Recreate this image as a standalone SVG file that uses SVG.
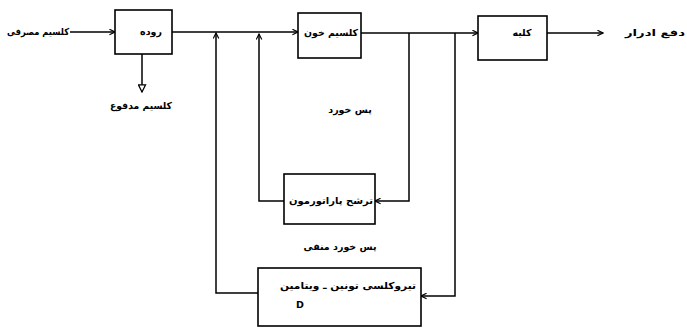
<svg xmlns="http://www.w3.org/2000/svg" width="687" height="328" viewBox="0 0 687 328">
<style>
.box{fill:#fff;stroke:#000;stroke-width:1.6}
.ln{fill:none;stroke:#000;stroke-width:1.5}
.t{font-family:"DejaVu Sans",sans-serif;font-size:9.5px;font-weight:bold;fill:#000;text-anchor:middle;dominant-baseline:middle}
</style>
<defs>
<marker id="ch" viewBox="0 0 10 10" refX="9" refY="5" markerWidth="7" markerHeight="7" markerUnits="userSpaceOnUse" orient="auto">
<path d="M1,1 L9,5 L1,9" fill="none" stroke="#000" stroke-width="1.6"/>
</marker>
<marker id="tri" viewBox="0 0 10 10" refX="9" refY="5" markerWidth="9" markerHeight="9" markerUnits="userSpaceOnUse" orient="auto">
<path d="M1,1 L9,5 L1,9 Z" fill="#fff" stroke="#000" stroke-width="1.4"/>
</marker>
</defs>
<g id="connectors">
<path class="ln" d="M70,32 L115,32" marker-end="url(#ch)"/>
<path class="ln" d="M172,32 L298,32" marker-end="url(#ch)"/>
<path class="ln" d="M142,54 L142,92" marker-end="url(#tri)"/>
<path class="ln" d="M361,33 L478,33" marker-end="url(#ch)"/>
<path class="ln" d="M547,33 L603,33" marker-end="url(#ch)"/>
<path class="ln" d="M409,33 L409,201 L375,201" marker-end="url(#ch)"/>
<path class="ln" d="M284,201 L259,201 L259,34" marker-end="url(#ch)"/>
<path class="ln" d="M455,33 L455,296 L421,296" marker-end="url(#ch)"/>
<path class="ln" d="M258,293 L216,293 L216,33" marker-end="url(#ch)"/>
</g>
<g id="n-input"><text class="t" x="38" y="32" textLength="62" lengthAdjust="spacingAndGlyphs">کلسیم مصرفی</text></g>
<g id="n-gut"><rect class="box" x="115" y="10" width="57" height="44"/><text class="t" x="151" y="32">روده</text></g>
<g id="n-fecal"><text class="t" x="141" y="106" textLength="62" lengthAdjust="spacingAndGlyphs">کلسیم مدفوع</text></g>
<g id="n-blood"><rect class="box" x="298" y="13" width="63" height="45"/><text class="t" x="331" y="33" textLength="54" lengthAdjust="spacingAndGlyphs">کلسیم خون</text></g>
<g id="n-kidney"><rect class="box" x="478" y="16" width="69" height="44"/><text class="t" x="522" y="33">کلیه</text></g>
<g id="n-output"><text class="t" x="655" y="33" textLength="60" lengthAdjust="spacingAndGlyphs">دفع ادرار</text></g>
<g id="n-fb"><text class="t" x="350" y="110">پس خورد</text></g>
<g id="n-pth"><rect class="box" x="284" y="174" width="91" height="50"/><text class="t" x="331" y="201" textLength="84" lengthAdjust="spacingAndGlyphs">ترشح پاراتورمون</text></g>
<g id="n-negfb"><text class="t" x="340" y="247">پس خورد منفی</text></g>
<g id="n-ct"><rect class="box" x="258" y="268" width="163" height="58"/><text class="t" x="348" y="286" textLength="136" lengthAdjust="spacingAndGlyphs">تیروکلسی تونین ـ ویتامین</text><text class="t" x="300" y="305">D</text></g>
</svg>
